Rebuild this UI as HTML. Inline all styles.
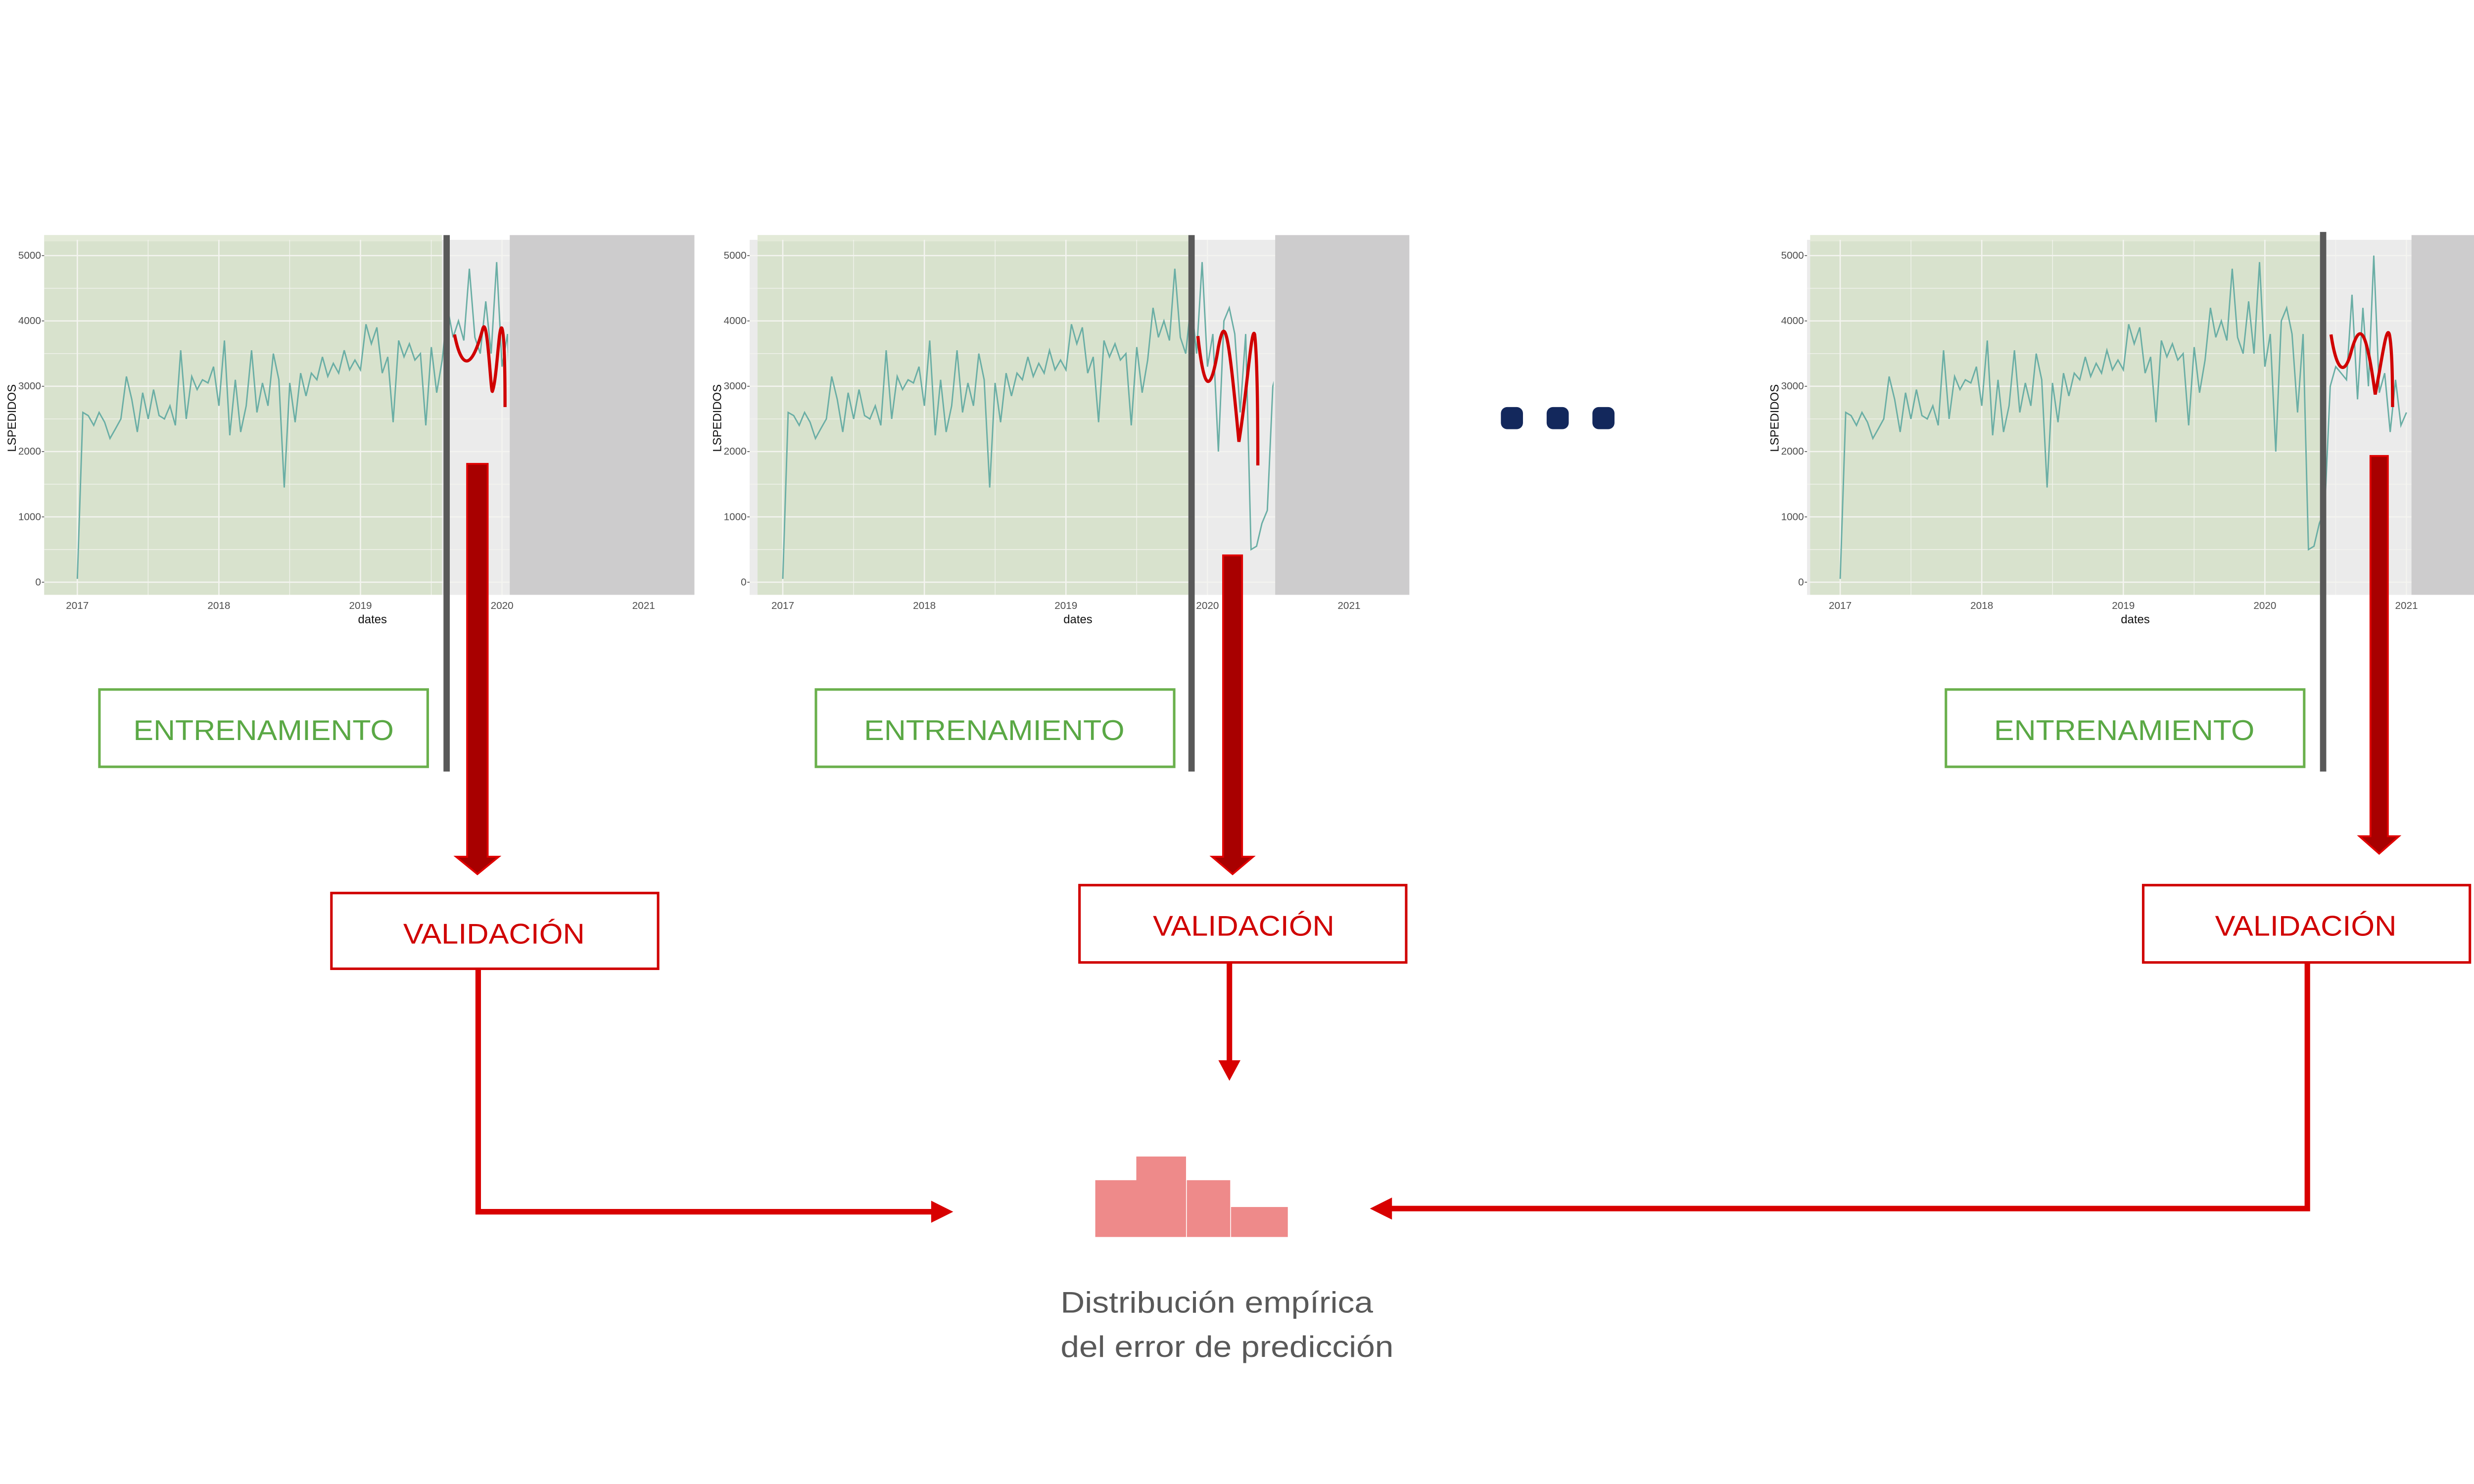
<!DOCTYPE html>
<html><head><meta charset="utf-8">
<style>html,body{margin:0;padding:0;background:#fff;overflow:hidden}svg{display:block}</style>
</head><body>
<svg id="s" xmlns="http://www.w3.org/2000/svg" width="5333" height="3000" viewBox="0 0 1672 940.5" preserveAspectRatio="xMinYMin meet">
<defs>
<clipPath id="c1"><rect x="0" y="140" width="322" height="240"/></clipPath>
<clipPath id="c2"><rect x="0" y="140" width="807" height="240"/></clipPath>
<clipPath id="c3"><rect x="0" y="140" width="1527" height="240"/></clipPath>
</defs>
<rect width="1672" height="941" fill="#fff"/>
<g id="charts" font-family="Liberation Sans, sans-serif"></g>

<g font-family="Liberation Sans, sans-serif" text-anchor="middle">
<rect x="63" y="437" width="208" height="49" fill="#fff" stroke="#6ab04c" stroke-width="1.6"/>
<text x="167" y="469" font-size="18" fill="#5aa845" textLength="165" lengthAdjust="spacingAndGlyphs">ENTRENAMIENTO</text>
<rect x="517" y="437" width="227" height="49" fill="#fff" stroke="#6ab04c" stroke-width="1.6"/>
<text x="630" y="469" font-size="18" fill="#5aa845" textLength="165" lengthAdjust="spacingAndGlyphs">ENTRENAMIENTO</text>
<rect x="1233" y="437" width="227" height="49" fill="#fff" stroke="#6ab04c" stroke-width="1.6"/>
<text x="1346" y="469" font-size="18" fill="#5aa845" textLength="165" lengthAdjust="spacingAndGlyphs">ENTRENAMIENTO</text>

<rect x="210" y="566" width="207" height="48" fill="#fff" stroke="#d00000" stroke-width="1.6"/>
<text x="313" y="598" font-size="18" fill="#d00000" textLength="115" lengthAdjust="spacingAndGlyphs">VALIDACIÓN</text>
<rect x="684" y="561" width="207" height="49" fill="#fff" stroke="#d00000" stroke-width="1.6"/>
<text x="788" y="593" font-size="18" fill="#d00000" textLength="115" lengthAdjust="spacingAndGlyphs">VALIDACIÓN</text>
<rect x="1358" y="561" width="207" height="49" fill="#fff" stroke="#d00000" stroke-width="1.6"/>
<text x="1461" y="593" font-size="18" fill="#d00000" textLength="115" lengthAdjust="spacingAndGlyphs">VALIDACIÓN</text>
</g>

<rect x="281" y="149" width="4" height="340" fill="#595959"/>
<rect x="753" y="149" width="4" height="340" fill="#595959"/>
<rect x="1470" y="147" width="4" height="342" fill="#595959"/>

<g fill="#a80000" stroke="#e00000" stroke-width="1.2">
<path d="M296,294 H309 V543 H316 L302.5,554 L289,543 H296 Z"/>
<path d="M775,352 H787 V543 H794 L781,554 L768,543 H775 Z"/>
<path d="M1502,289 H1513 V530 H1520 L1507.5,541 L1495,530 H1502 Z"/>
</g>

<g fill="none" stroke="#d80000" stroke-width="3.5">
<path d="M303,614 V768 H592"/>
<path d="M779,610 V673"/>
<path d="M1462,610 V766 H880"/>
</g>
<g fill="#d80000">
<path d="M590,761 L604,768 L590,775 Z"/>
<path d="M772,672 L779,685 L786,672 Z"/>
<path d="M882,759 L868,766 L882,773 Z"/>
</g>

<g fill="#13285c">
<rect x="951" y="258" width="14" height="14" rx="4"/>
<rect x="980" y="258" width="14" height="14" rx="4"/>
<rect x="1009" y="258" width="14" height="14" rx="4"/>
</g>

<g fill="#ee8a8a">
<rect x="694" y="748" width="26" height="36"/>
<rect x="720" y="733" width="31.5" height="51"/>
<rect x="752" y="748" width="27.5" height="36"/>
<rect x="780" y="765" width="36" height="19"/>
</g>
<g font-family="Liberation Sans, sans-serif" font-size="19" fill="#595959">
<text x="672" y="832" textLength="198" lengthAdjust="spacingAndGlyphs">Distribución empírica</text>
<text x="672" y="860" textLength="211" lengthAdjust="spacingAndGlyphs">del error de predicción</text>
</g>
</svg>
<script>
(function(){
var NS="http://www.w3.org/2000/svg";
var v=[50,2600,2550,2400,2600,2450,2200,2350,2500,3150,2800,2300,2900,2500,2950,2550,2500,2700,2400,3550,2500,3150,2950,3100,3050,3300,
2700,3700,2250,3100,2300,2700,3550,2600,3050,2700,3500,3100,1450,3050,2450,3200,2850,3200,3100,3450,3150,3350,3200,3550,3250,3400,
3250,3950,3650,3900,3200,3450,2450,3700,3450,3650,3400,3500,2400,3600,2900,3400,4200,3750,4000,3700,4800,3750,3500,4300,3500,4900,
3300,3800,2000,4000,4200,3800,2600,3800,500,550,900,1100,3000,3300,3200,3100,4400,2800,4200,3000,5000,2900,3200,2300,3100,2400,2600];
function el(n,a,p){var e=document.createElementNS(NS,n);for(var k in a)e.setAttribute(k,a[k]);if(p)p.appendChild(e);return e;}
var g=document.getElementById("charts");
var charts=[
 {dx:0,green:[28,280],gray:[323,440],clip:"c1",red:"M288,212 C292,232 298,238 306,208 C309,200 311,250 312,248 C315,240 316,205 318,208 C320,212 320,250 320,258"},
 {dx:447,green:[480,753],gray:[808,893],clip:"c2",red:"M759,213 C762,240 766,258 772,220 C776,200 778,205 785,280 C790,250 793,205 795,212 C797,230 797,280 797,295"},
 {dx:1117,green:[1147,1470],gray:[1528,1568],clip:"c3",red:"M1477,212 C1480,232 1485,242 1490,222 C1495,205 1499,205 1505,250 C1509,230 1512,205 1514,212 C1516,222 1516,250 1516,258"}
];
charts.forEach(function(c){
 var dx=c.dx, x0=28+dx;
 el("rect",{x:x0,y:152,width:(c.gray[1]-x0),height:225,fill:"#ebebeb"},g);
 el("rect",{x:c.green[0],y:149,width:c.green[1]-c.green[0],height:228,fill:"#d8e2cd"},g);
 el("rect",{x:c.green[0],y:149,width:c.green[1]-c.green[0],height:4,fill:"#e3ead8"},g);
 for(var i=0;i<=10;i++){var yy=369-i*20.7;el("line",{x1:x0,x2:c.gray[0],y1:yy,y2:yy,stroke:"#f4f4f0","stroke-width":i%2?0.4:0.8},g);}
 for(var j=0;j<9;j++){var xx=49+dx+j*44.85;if(xx<c.gray[0])el("line",{x1:xx,x2:xx,y1:152,y2:377,stroke:"#f4f4f0","stroke-width":j%2?0.4:0.8},g);}
 el("rect",{x:c.gray[0],y:149,width:c.gray[1]-c.gray[0],height:228,fill:"#cdcccd"},g);
 var pts=[];for(var k=0;k<v.length;k++){pts.push((49+dx+k*89.7/26).toFixed(1)+","+(369-v[k]*0.0414).toFixed(1));}
 el("polyline",{points:pts.join(" "),fill:"none",stroke:"#6aaea5","stroke-width":0.9,"clip-path":"url(#"+c.clip+")"},g);
 el("path",{d:c.red,fill:"none",stroke:"#d00000","stroke-width":2},g);
 var labs=["0","1000","2000","3000","4000","5000"];
 for(var i=0;i<6;i++){var t=el("text",{x:x0-2,y:369-i*41.4+2,"font-size":6.5,fill:"#4d4d4d","text-anchor":"end"},g);t.textContent=labs[i];
   el("line",{x1:x0-1.5,x2:x0,y1:369-i*41.4,y2:369-i*41.4,stroke:"#4d4d4d","stroke-width":0.5},g);}
 for(var j=0;j<5;j++){var xx=49+dx+j*89.7;var t=el("text",{x:xx,y:386,"font-size":6.5,fill:"#4d4d4d","text-anchor":"middle"},g);t.textContent=String(2017+j);}
 var t=el("text",{x:236+dx,y:395,"font-size":7.5,fill:"#111","text-anchor":"middle"},g);t.textContent="dates";
 var t=el("text",{x:0,y:0,"font-size":7.5,fill:"#111","text-anchor":"middle",transform:"translate("+(10+dx)+",265) rotate(-90)"},g);t.textContent="LSPEDIDOS";
});
})();
</script>
</body></html>
